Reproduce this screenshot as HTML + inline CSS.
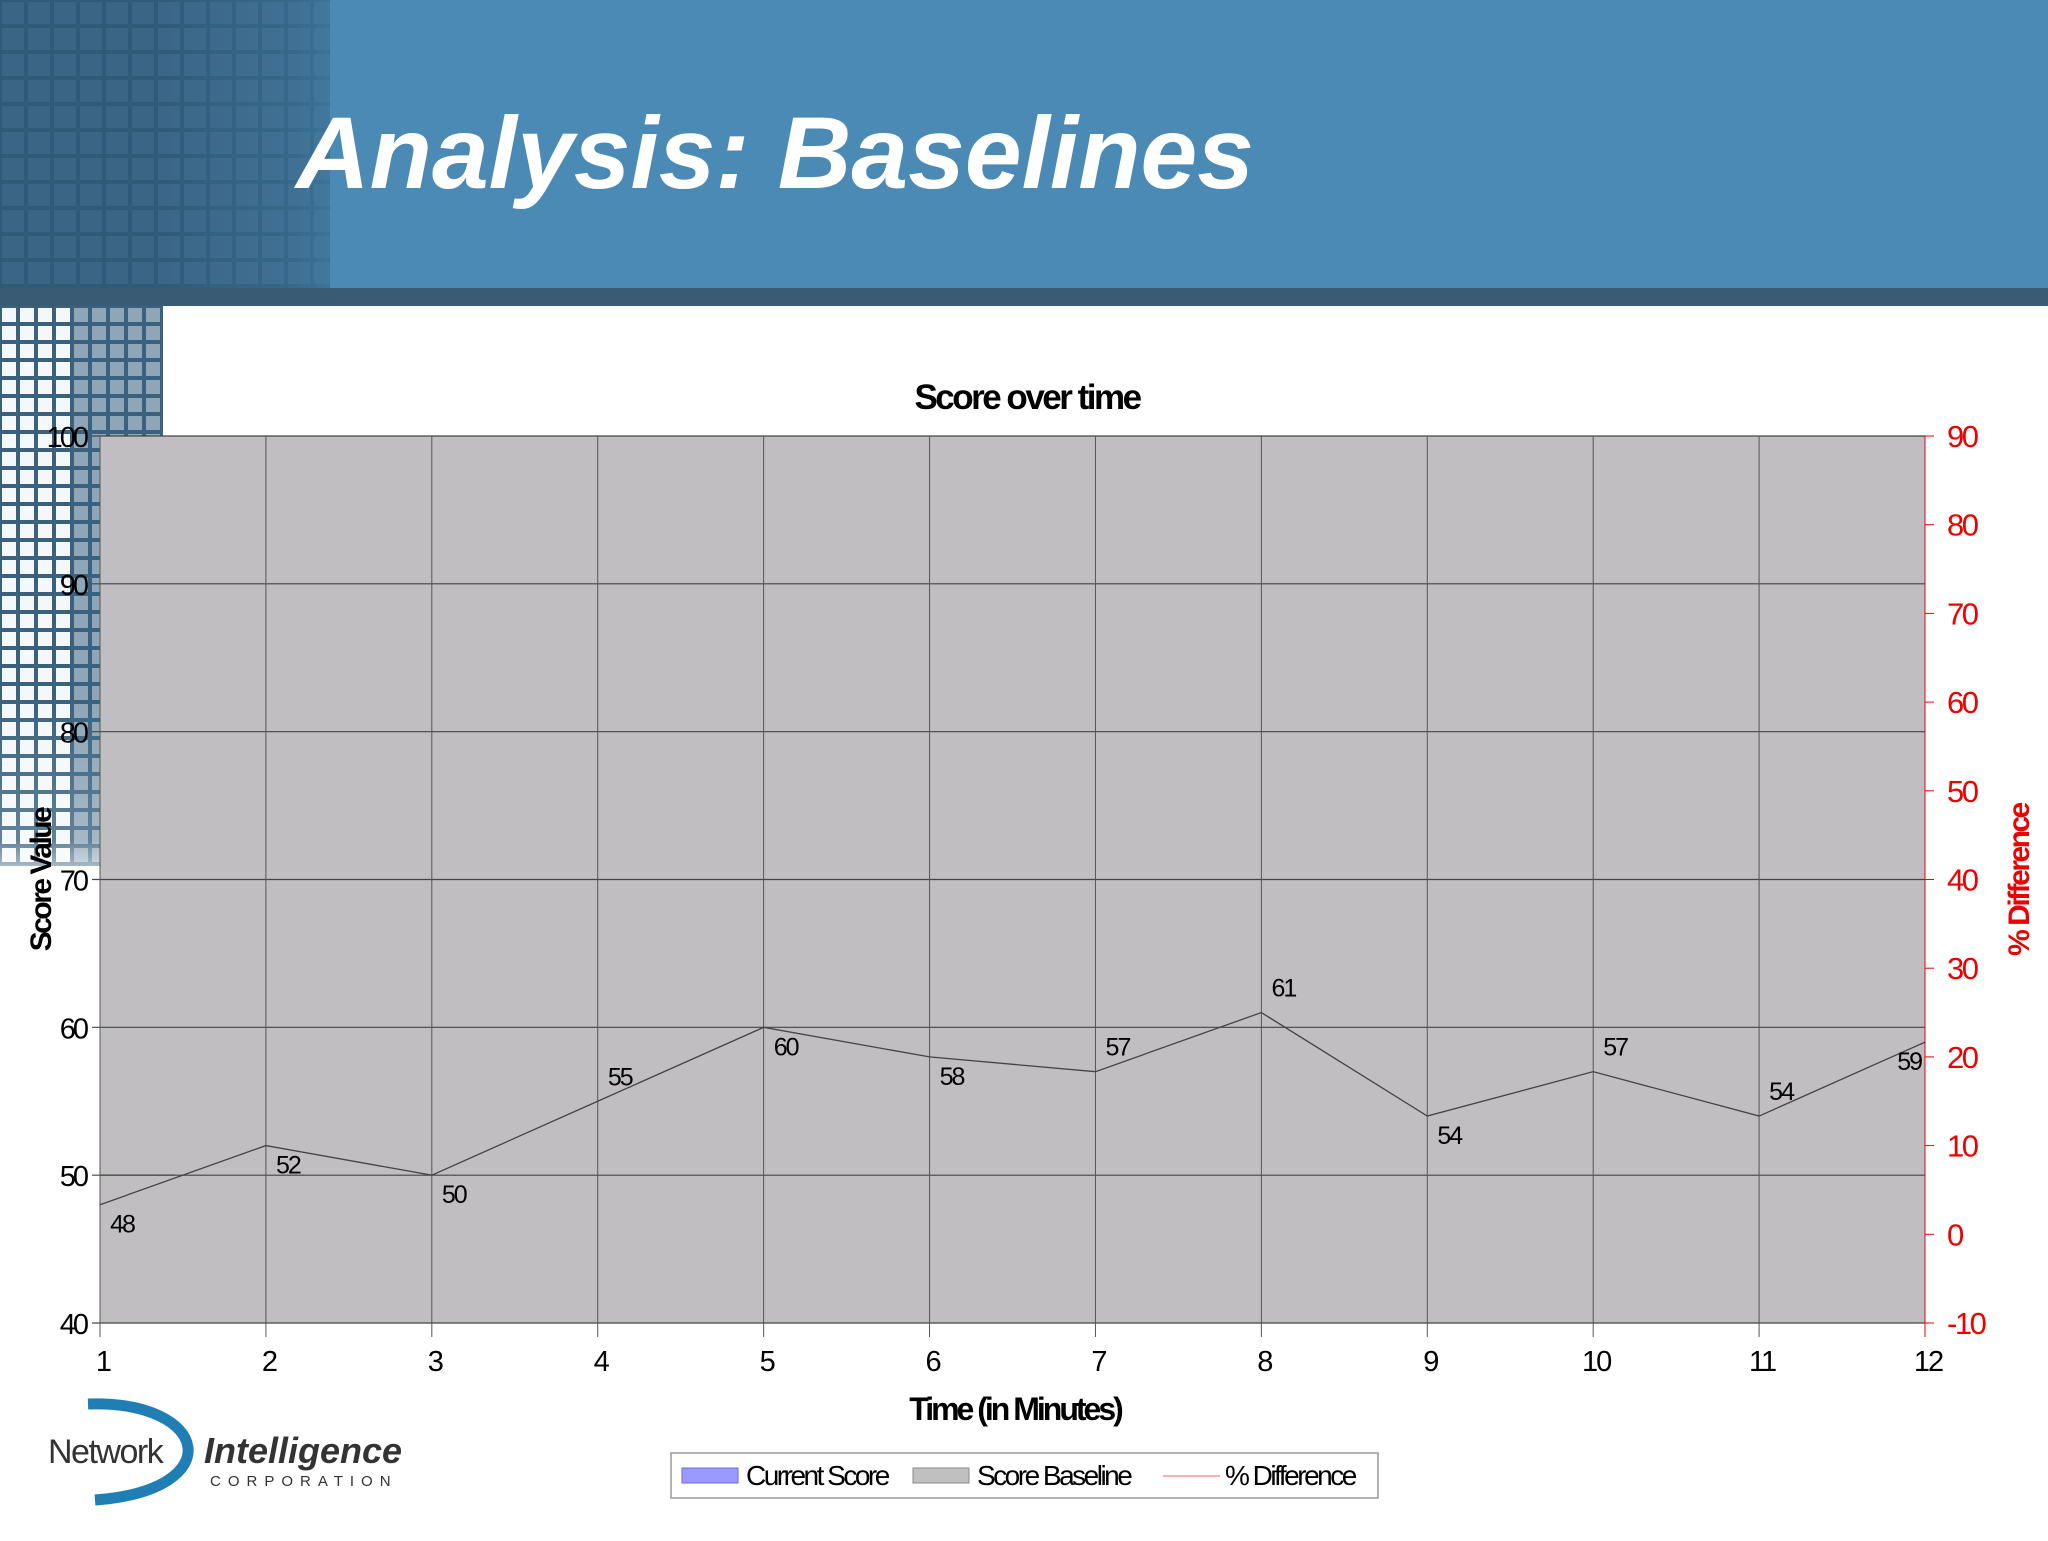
<!DOCTYPE html>
<html><head><meta charset="utf-8"><style>
html,body{margin:0;padding:0;background:#fff}
body{width:2048px;height:1536px;overflow:hidden;position:relative;font-family:"Liberation Sans",sans-serif}
svg text{font-family:"Liberation Sans",sans-serif}
</style></head><body>
<svg id="chart" width="2048" height="1536" viewBox="0 0 2048 1536" xmlns="http://www.w3.org/2000/svg">
<defs>
<pattern id="mosaicDark" width="26" height="26" patternUnits="userSpaceOnUse">
<rect width="26" height="26" fill="#2f5a78"/><rect x="2" y="2" width="22" height="22" fill="#3b6585"/>
</pattern>
<pattern id="mosaicLight" width="18" height="18" patternUnits="userSpaceOnUse">
<rect width="18" height="18" fill="#3a627f"/><rect x="2" y="2" width="14" height="14" fill="#f4f8fb"/>
</pattern>
<linearGradient id="fadeH" x1="0" x2="1" y1="0" y2="0">
<stop offset="0" stop-color="#4a8ab5" stop-opacity="0"/><stop offset="0.55" stop-color="#4a8ab5" stop-opacity="0.3"/><stop offset="1" stop-color="#4a8ab5" stop-opacity="1"/>
</linearGradient>
<linearGradient id="fadeV" x1="0" x2="0" y1="0" y2="1">
<stop offset="0" stop-color="#fff" stop-opacity="0"/><stop offset="0.7" stop-color="#fff" stop-opacity="0.2"/><stop offset="1" stop-color="#fff" stop-opacity="1"/>
</linearGradient>
</defs>
<g>
<rect x="0" y="0" width="2048" height="290" fill="#4a8ab5"/>
<rect x="0" y="0" width="330" height="290" fill="url(#mosaicDark)"/>
<rect x="150" y="0" width="260" height="290" fill="url(#fadeH)"/>
<rect x="0" y="288" width="2048" height="18" fill="#395b74"/>
<rect x="0" y="306" width="163" height="560" fill="url(#mosaicLight)"/>
<rect x="70" y="306" width="93" height="560" fill="#3a627f" opacity="0.55"/>
<rect x="0" y="700" width="163" height="200" fill="url(#fadeV)"/>
<text x="296" y="188" font-size="102" font-weight="bold" font-style="italic" fill="#fff" textLength="958">Analysis: Baselines</text>
</g>
<g id="plot"></g>
<g>
<path d="M88 1404 C210 1400 230 1490 95 1500" fill="none" stroke="#1f7fb4" stroke-width="11"/>
<text x="48" y="1463" font-size="34" fill="#333" letter-spacing="-1.5">Network</text>
<text x="204" y="1463" font-size="36" font-weight="bold" font-style="italic" fill="#333">Intelligence</text>
<text x="210" y="1486" font-size="15" fill="#333" letter-spacing="7">CORPORATION</text>
</g>
</svg>
<script>
const categories=[1,2,3,4,5,6,7,8,9,10,11,12];
const scoreValues=[48,52,50,55,60,58,57,61,54,57,54,59];
const labelAbove=[false,false,false,true,false,false,true,true,false,true,true,false];
const leftTicks=[40,50,60,70,80,90,100];
const rightTicks=[-10,0,10,20,30,40,50,60,70,80,90];
const baselineValue=50;

const NS="http://www.w3.org/2000/svg";
const L=100,R=1925,T=436,B=1323;
const x=c=>L+(c-1)*(R-L)/(categories.length-1);
const y=v=>B-(v-40)*(B-T)/60;
const y2=v=>B-(v+10)*(B-T)/100;
const g=document.getElementById('plot');
function mk(tag,attrs,parent){const e=document.createElementNS(NS,tag);for(const k in attrs)e.setAttribute(k,attrs[k]);(parent||g).appendChild(e);return e;}

const bg=mk('rect',{x:L,y:T,width:R-L,height:B-T,fill:'#c0bec1',stroke:'#777','stroke-width':1});



const title=mk('text',{x:1027,y:409,'font-size':35,'font-weight':'bold','text-anchor':'middle','letter-spacing':-2.5,fill:'#000'});
title.textContent='Score over time';



leftTicks.forEach(v=>{
  const ln=mk('line',{x1:L-8,x2:R,y1:y(v),y2:y(v),stroke:'#444','stroke-width':1.2});
  
  
  const t=mk('text',{x:L-14,y:y(v)+11,'font-size':29,'text-anchor':'end','letter-spacing':-3,fill:'#000'});
  t.textContent=v;
  
  
});
categories.forEach(c=>{
  const ln=mk('line',{x1:x(c),x2:x(c),y1:T,y2:B+14,stroke:'#555','stroke-width':1});
  
  
  const t=mk('text',{x:x(c)+3,y:B+48,'font-size':29,'text-anchor':'middle','letter-spacing':-2,fill:'#000'});
  t.textContent=c;
  
  
});
const ax2=mk('line',{x1:R,x2:R,y1:T,y2:B+14,stroke:'#e00','stroke-width':1});


rightTicks.forEach(v=>{
  mk('line',{x1:R,x2:R+9,y1:y2(v),y2:y2(v),stroke:'#e00','stroke-width':1});
  const t=mk('text',{x:R+22,y:y2(v)+11,'font-size':31,'letter-spacing':-2.5,fill:'#e00'});
  t.textContent=v;
  
  
});
const bl=mk('line',{x1:x(1),x2:x(1.45),y1:y(baselineValue),y2:y(baselineValue),stroke:'#555','stroke-width':1.5});



const pts=categories.map((c,i)=>x(c)+','+y(scoreValues[i])).join(' ');
const line=mk('polyline',{points:pts,fill:'none',stroke:'#444','stroke-width':1.3});


categories.forEach((c,i)=>{
  const last=i===categories.length-1;
  const t=mk('text',{x:x(c)+(last?-4:22),y:y(scoreValues[i])+(labelAbove[i]?-16:28),'font-size':25,'text-anchor':last?'end':'middle','letter-spacing':-2,fill:'#000'});
  t.textContent=scoreValues[i];
  
  
});

const xt=mk('text',{x:1015,y:1420,'font-size':32,'font-weight':'bold','text-anchor':'middle','letter-spacing':-3,fill:'#000'});
xt.textContent='Time (in Minutes)';


const yt=mk('text',{x:0,y:0,'font-size':30,'font-weight':'bold','text-anchor':'middle','letter-spacing':-2.5,fill:'#000',transform:'translate(51,880) rotate(-90)'});
yt.textContent='Score Value';


const yt2=mk('text',{x:0,y:0,'font-size':30,'font-weight':'bold','text-anchor':'middle','letter-spacing':-2.5,fill:'#e00',transform:'translate(2029,880) rotate(-90)'});
yt2.textContent='% Difference';



const lg=mk('g',{});


mk('rect',{x:671,y:1453,width:707,height:45,fill:'#fff',stroke:'#999','stroke-width':1.5},lg);
mk('rect',{x:682,y:1468,width:56,height:15,fill:'#9999ff',stroke:'#6b6bd6'},lg);
const l1=mk('text',{x:746,y:1485,'font-size':28,'letter-spacing':-2.5,fill:'#000'},lg);
l1.textContent='Current Score';


mk('rect',{x:913,y:1468,width:56,height:15,fill:'#c0c0c0',stroke:'#888'},lg);
const l2=mk('text',{x:977,y:1485,'font-size':28,'letter-spacing':-2.5,fill:'#000'},lg);
l2.textContent='Score Baseline';


mk('line',{x1:1163,x2:1220,y1:1476,y2:1476,stroke:'#e88','stroke-width':1.2},lg);
const l3=mk('text',{x:1225,y:1485,'font-size':28,'letter-spacing':-2.5,fill:'#000'},lg);
l3.textContent='% Difference';


</script>
</body></html>
